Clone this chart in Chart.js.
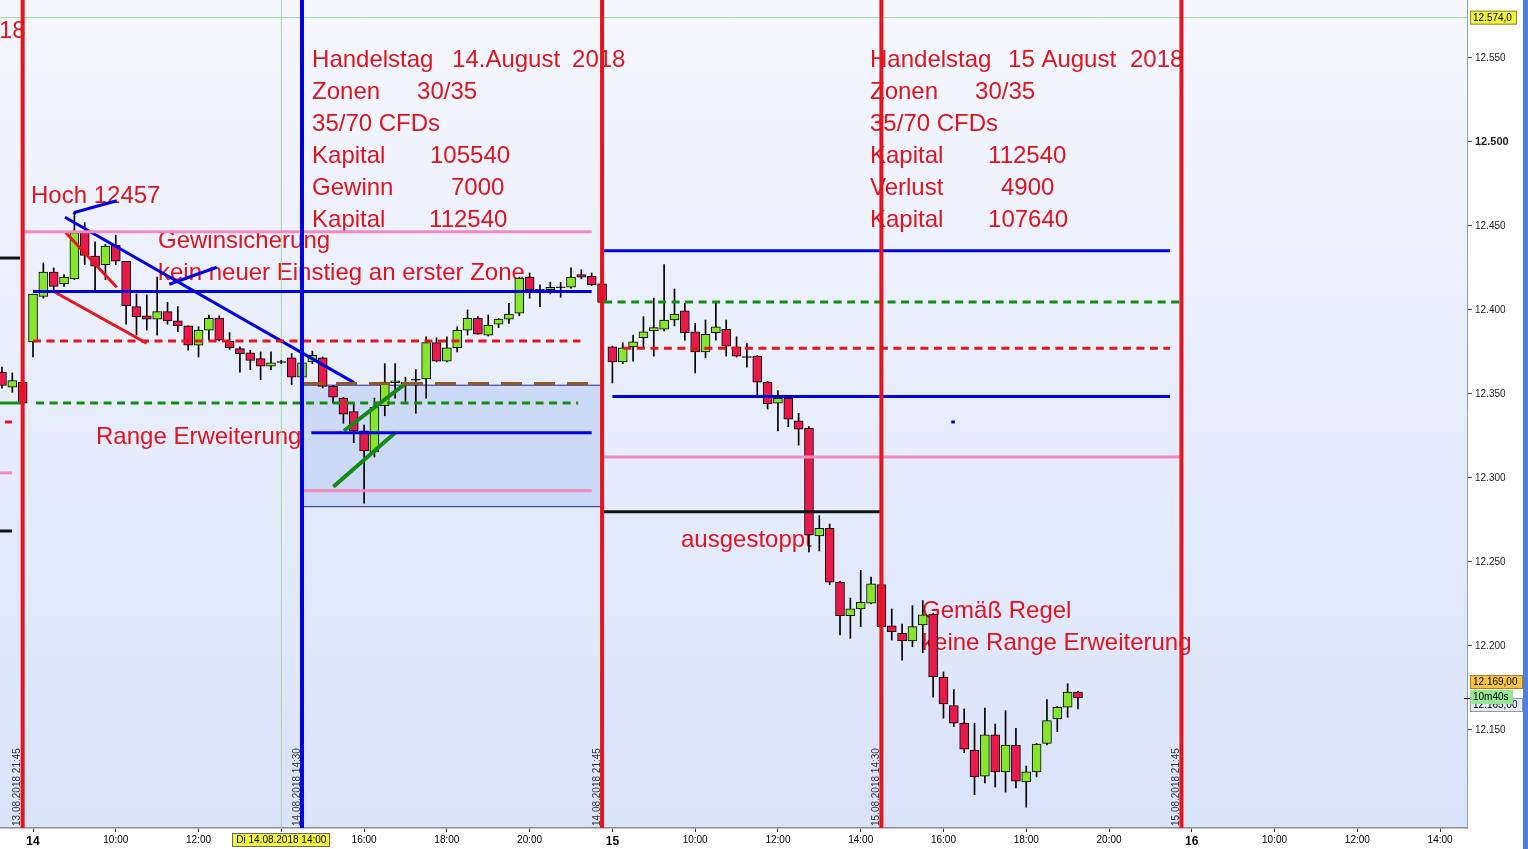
<!DOCTYPE html>
<html>
<head>
<meta charset="utf-8">
<title>DAX 15 Min - Handelstag 14./15. August 2018</title>
<script src="https://cdn.jsdelivr.net/npm/chart.js@4.4.0/dist/chart.umd.min.js"></script>
<style>
  html, body { margin: 0; padding: 0; background: #fff; overflow: hidden; }
  #wrap { width: 1528px; height: 849px; position: relative; }
</style>
</head>
<body>
<div id="wrap"><canvas id="chart"></canvas></div>
<script>
const FONT = '"Liberation Sans", Arial, sans-serif';
Chart.defaults.font.family = FONT;

// 15-Minuten-Kerzen. Index 0 = 14.08. 08:00, Index 56 = 15.08. 08:00
const firstCandle = -3;
const opens = [
  12363, 12354, 12357,
  12381, 12408, 12422.5, 12415.5, 12418.5, 12446, 12432, 12427, 12438.5, 12429,
  12402, 12396.5, 12394.5, 12399, 12393.5, 12390.5, 12379, 12388, 12395, 12381.5,
  12377, 12374.5, 12371, 12366.5, 12369, 12371.5, 12360, 12369, 12371.5, 12354.5,
  12347.5, 12339.5, 12328, 12315.5, 12343, 12357, 12356, 12358.5, 12359, 12380.5,
  12369.5, 12377.5, 12388, 12395, 12385, 12391.5, 12394.5, 12398, 12419.5, 12412,
  12412, 12413.5, 12413.5, 12421, 12420, 12415.5,
  12378, 12369, 12378, 12383.5, 12387.5, 12388.5, 12394, 12399.5, 12387, 12375,
  12386.5, 12388.5, 12378, 12372, 12372.5, 12357, 12344.5, 12347.5, 12334, 12329.5,
  12265.5, 12270, 12238, 12218, 12222, 12225.5, 12236.5, 12212, 12207.5, 12203,
  12212.5, 12219, 12181.5, 12164.5, 12154, 12138, 12122.5, 12147, 12125, 12141,
  12119, 12125, 12142, 12156.5, 12163.5, 12172.5
];
const highs = [
  12366, 12362.5, 12358,
  12409.5, 12428, 12425, 12421, 12457.5, 12452, 12440.5, 12439, 12444.5, 12429,
  12409.5, 12409, 12419.5, 12404.5, 12402, 12390.5, 12390, 12397, 12396.5, 12386.5,
  12378, 12376, 12375, 12375, 12370, 12374, 12370, 12375.5, 12372, 12355,
  12348, 12345, 12331.5, 12347.5, 12368, 12368, 12360, 12364.5, 12384, 12383.5,
  12384, 12390, 12400, 12396, 12397, 12395, 12404, 12419.5, 12422, 12415,
  12416.5, 12416.5, 12425, 12424, 12422, 12416,
  12378.5, 12380.5, 12385, 12396, 12407, 12427, 12412.5, 12404, 12392, 12394,
  12404, 12394, 12384, 12380, 12373, 12357.5, 12352, 12348, 12338.5, 12330.5,
  12277.5, 12272.5, 12238.5, 12228.5, 12245, 12241, 12237, 12222, 12213, 12224,
  12227, 12219.5, 12184.5, 12174, 12162.5, 12154, 12163, 12153.5, 12161.5, 12151,
  12128.5, 12142, 12168, 12164, 12177.5, 12173
];
const lows = [
  12353.5, 12351, 12344,
  12372, 12407, 12412, 12414, 12418, 12427, 12412, 12418, 12427, 12391.5,
  12385, 12388, 12385, 12391.5, 12387, 12376, 12372, 12382, 12381.5, 12376.5,
  12363, 12364.5, 12358.5, 12364.5, 12368, 12355.5, 12358, 12368, 12353.5, 12344.5,
  12332.5, 12321, 12285, 12312.5, 12337, 12347.5, 12345, 12338.5, 12347.5, 12369,
  12369, 12375, 12385, 12385.5, 12384.5, 12389.5, 12392, 12396.5, 12407, 12402,
  12409.5, 12407.5, 12413, 12418.5, 12414.5, 12404.5,
  12356.5, 12368, 12369.5, 12377.5, 12372.5, 12387.5, 12390.5, 12382, 12362.5, 12371.5,
  12382, 12372.5, 12372, 12366, 12349.5, 12341, 12328, 12330.5, 12319.5, 12256,
  12256.5, 12236.5, 12206.5, 12204.5, 12211.5, 12225, 12211, 12203.5, 12191.5, 12199.5,
  12196, 12169.5, 12157, 12152, 12136.5, 12111.5, 12118.5, 12116, 12113, 12115.5,
  12104, 12122, 12141, 12149, 12157.5, 12162.5
];
const closes = [
  12355, 12358, 12344.5,
  12409.5, 12422.5, 12414, 12419.5, 12446, 12432.5, 12426, 12438, 12429, 12402.5,
  12396, 12394.5, 12399, 12393.5, 12390.5, 12379, 12388, 12395, 12382, 12377.5,
  12374, 12370, 12366.5, 12368.5, 12369, 12360, 12368.5, 12373, 12354.5, 12348,
  12338, 12328, 12316, 12342, 12357, 12357.5, 12357, 12358.5, 12380.5, 12369.5,
  12377.5, 12388, 12395, 12385.5, 12391, 12394.5, 12397.5, 12419, 12412, 12412,
  12413.5, 12413.5, 12419.5, 12419.5, 12415, 12404.5,
  12369, 12377.5, 12381, 12387, 12389.5, 12394, 12397.5, 12386.5, 12375, 12385.5,
  12390, 12378.5, 12372.5, 12372, 12357, 12344, 12347.5, 12335, 12329, 12266,
  12270, 12238, 12218, 12222, 12226, 12237, 12211.5, 12208.5, 12203, 12211.5,
  12218.5, 12181.5, 12165.5, 12154, 12138.5, 12122, 12147, 12125, 12141, 12119.5,
  12125, 12141.5, 12155.5, 12163.5, 12172.5, 12169
];

// Achsen
const xMin = -3.19, xMax = 138.6;
const yMin = 12091.6, yMax = 12584.5;
const yTicks = [12150, 12200, 12250, 12300, 12350, 12400, 12450, 12500, 12550];
const xTicks = [0, 8, 16, 24, 32, 40, 48, 56, 64, 72, 80, 88, 96, 104, 112, 120, 128, 136];
const xTickLabels = ['14', '10:00', '12:00', '', '16:00', '18:00', '20:00',
  '15', '10:00', '12:00', '14:00', '16:00', '18:00', '20:00',
  '16', '10:00', '12:00', '14:00'];
const lastPrice = 12169;
const topLine = 12574;

// eingezeichnete Linien: [von, bis, Kurs]
const blueLevels = [[0, 54, 12410.9], [26.9, 54, 12326.9], [55.2, 109.9, 12435.3], [56, 109.9, 12348.4], [88.75, 89.1, 12333.3]];
const pinkLevels = [[-0.94, 54, 12446.6], [26.1, 54, 12292.4], [55.2, 110.9, 12312.5], [-3.3, -2.03, 12303]];
const blackLevels = [[-3.3, -1.26, 12430.9], [-3.3, -2.03, 12268.4], [55.2, 81.93, 12279.9]];
const redLevels = [[-2.71, -2.03, 12333.3]];
const greenLevels = [[-3.3, -1, 12344.6]];
const redDashedLevels = [[0, 52.9, 12381.5], [57.06, 109.9, 12377.2]];
const greenDashedLevels = [[0.3, 52.7, 12344.6], [55.2, 110.9, 12404.7]];
const brownDashedLevels = [[26.1, 54.9, 12356.2]];
// Trendlinien: Punktfolgen [Index, Kurs]
const blueTrends = [
  [[3.09, 12455.2], [31.03, 12356.7]],
  [[3.96, 12456.9], [4.06, 12458.1], [8.09, 12465]],
  [[13.17, 12415.3], [17.76, 12425.4]]
];
const redTrends = [
  [[3.09, 12446.6], [8.09, 12413.5]],
  [[2.13, 12410.5], [10.99, 12380.2]]
];
const greenTrends = [
  [[30.06, 12328.1], [36.12, 12356.7]],
  [[29.03, 12294.8], [35.0, 12326.9]]
];
// Range-Zone 14.08.: [von, bis, unten, oben]
const rangeZone = [26.1, 54.8, 12282.9, 12355.2];
// senkrechte Linien
const redVerticals = [-1, 55, 82, 111];
const blueVerticals = [26];
const cursorVertical = 24;
const verticalLabels = [
  [-1, '13.08.2018 21:45'], [26, '14.08.2018 14:30'], [55, '14.08.2018 21:45'],
  [82, '15.08.2018 14:30'], [111, '15.08.2018 21:45']
];
// Texte: [Text, Index, Kurs]
const notes = [
  ['18', -3.29, 12561.9],
  ['Handelstag', 26.97, 12544.6], ['14.August', 40.5, 12544.6], ['2018', 52.1, 12544.6],
  ['Zonen', 26.97, 12525.6], ['30/35', 37.12, 12525.6],
  ['35/70 CFDs', 26.97, 12506.5],
  ['Kapital', 26.97, 12487.5], ['105540', 38.37, 12487.5],
  ['Gewinn', 26.97, 12468.4], ['7000', 40.4, 12468.4],
  ['Kapital', 26.97, 12449.4], ['112540', 38.28, 12449.4],
  ['Handelstag', 80.9, 12544.6], ['15 August', 94.24, 12544.6], ['2018', 106.03, 12544.6],
  ['Zonen', 80.9, 12525.6], ['30/35', 91.05, 12525.6],
  ['35/70 CFDs', 80.9, 12506.5],
  ['Kapital', 80.9, 12487.5], ['112540', 92.31, 12487.5],
  ['Verlust', 80.9, 12468.4], ['4900', 93.56, 12468.4],
  ['Kapital', 80.9, 12449.4], ['107640', 92.31, 12449.4],
  ['Hoch 12457', -0.19, 12463.7],
  ['Gewinsicherung', 12.08, 12436.9],
  ['kein neuer Einstieg an erster Zone', 12.08, 12417.8],
  ['Range Erweiterung', 6.09, 12320.2],
  ['ausgestoppt', 62.63, 12258.9],
  ['Gemäß Regel', 85.93, 12216.6],
  ['keine Range Erweiterung', 85.93, 12197.6]
];

const UP = '#86e62c', DOWN = '#e8194b';
const BLUE = '#0000e0', RED = '#e6141c', PINK = '#f28ac2', GREEN = '#148c14',
      BROWN = '#96581c', BLACK = '#111', LIGHT_GREEN = '#9ade9a', TEXT_RED = '#e0141e';

const idx = opens.map((_, i) => firstCandle + i);
const bodyData = idx.map((k, i) => {
  let lo = Math.min(opens[i], closes[i]), hi = Math.max(opens[i], closes[i]);
  if (hi - lo < 0.6) { lo -= 0.3; hi += 0.3; }
  return { x: k, y: [lo, hi] };
});
const bodyColors = idx.map((_, i) => closes[i] > opens[i] ? UP : closes[i] < opens[i] ? DOWN : '#000');
const wickData = idx.map((k, i) => ({ x: k, y: [lows[i], highs[i]] }));

function line(points, color, width, dash, order) {
  return {
    type: 'line',
    data: points.map(([x, y]) => ({ x, y })),
    borderColor: color, borderWidth: width, borderDash: dash || [],
    borderCapStyle: 'butt', pointRadius: 0, fill: false, tension: 0,
    order: order === undefined ? 1 : order
  };
}
const levels = (list, color, width, dash) => list.map(([a, b, p]) => line([[a, p], [b, p]], color, width, dash));

const datasets = [
  { type: 'bar', data: wickData, backgroundColor: '#000', borderWidth: 0, barThickness: 1, grouped: false, order: 11 },
  { type: 'bar', data: bodyData, backgroundColor: bodyColors, borderColor: '#000', borderWidth: 1,
    borderSkipped: false, barThickness: 9, grouped: false, order: 10 },
  Object.assign(line([[rangeZone[0], rangeZone[3]], [rangeZone[1], rangeZone[3]]], '#1a2a9a', 1, [], 20),
    { fill: { value: rangeZone[2] }, backgroundColor: 'rgba(150,178,235,0.32)' }),
  line([[rangeZone[0], rangeZone[2]], [rangeZone[1], rangeZone[2]]], '#1a2a9a', 1, [], 19),
  line([[xMin, topLine], [xMax, topLine]], LIGHT_GREEN, 1, [], 15),
  line([[cursorVertical, yMin], [cursorVertical, yMax]], LIGHT_GREEN, 1, [], 15),
  ...levels(blueLevels, BLUE, 3),
  ...levels(pinkLevels, PINK, 3),
  ...levels(blackLevels, BLACK, 3),
  ...levels(redLevels, RED, 3),
  ...levels(greenLevels, GREEN, 3),
  ...levels(redDashedLevels, RED, 3, [8, 5.5]),
  ...levels(greenDashedLevels, GREEN, 3, [8, 5.5]),
  ...levels(brownDashedLevels, BROWN, 3, [21, 12]),
  ...blueTrends.map(p => line(p, BLUE, 3)),
  ...redTrends.map(p => line(p, RED, 3)),
  ...greenTrends.map(p => line(p, GREEN, 4)),
  ...redVerticals.map(k => line([[k, yMin], [k, yMax]], RED, 4, [], 0)),
  ...blueVerticals.map(k => line([[k, yMin], [k, yMax]], BLUE, 4, [], 0))
];

const backdrop = {
  id: 'backdrop',
  beforeDraw(chart) {
    const { ctx, chartArea: a, width, height } = chart;
    ctx.save();
    ctx.fillStyle = '#fff';
    ctx.fillRect(0, 0, width, height);
    const g = ctx.createLinearGradient(0, a.top, 0, a.bottom);
    g.addColorStop(0, '#f6f7fe');
    g.addColorStop(1, '#d9e3fa');
    ctx.fillStyle = g;
    ctx.fillRect(a.left, a.top, a.right - a.left, a.bottom - a.top);
    ctx.restore();
  }
};

const annotations = {
  id: 'annotations',
  beforeDatasetsDraw(chart) {
    const { ctx, chartArea: a, scales: { x, y } } = chart;
    ctx.save();
    ctx.beginPath();
    ctx.rect(a.left, a.top, a.right - a.left, a.bottom - a.top);
    ctx.clip();
    ctx.font = '24px ' + FONT;
    ctx.fillStyle = TEXT_RED;
    ctx.textBaseline = 'alphabetic';
    notes.forEach(([t, k, p]) => ctx.fillText(t, x.getPixelForValue(k), y.getPixelForValue(p)));
    ctx.restore();
  },
  afterDatasetsDraw(chart) {
    const { ctx, chartArea: a, scales: { x } } = chart;
    ctx.save();
    ctx.font = '10px ' + FONT;
    ctx.fillStyle = '#333';
    ctx.textBaseline = 'alphabetic';
    verticalLabels.forEach(([k, t]) => {
      ctx.save();
      ctx.translate(x.getPixelForValue(k) - 2.5, a.bottom - 2);
      ctx.rotate(-Math.PI / 2);
      ctx.fillText(t, 0, 0);
      ctx.restore();
    });
    ctx.restore();
  },
  afterDraw(chart) {
    const { ctx, chartArea: a, scales: { x, y }, width, height } = chart;
    const box = (x0, yc, w, fill, stroke, text) => {
      ctx.fillStyle = fill;
      ctx.fillRect(x0, yc - 7, w, 14);
      ctx.strokeStyle = stroke;
      ctx.lineWidth = 1;
      ctx.strokeRect(x0 + 0.5, yc - 6.5, w - 1, 13);
      ctx.fillStyle = '#000';
      ctx.fillText(text, x0 + 3, yc + 0.5);
    };
    ctx.save();
    ctx.font = '10px ' + FONT;
    ctx.textBaseline = 'middle';
    const yl = y.getPixelForValue(lastPrice);
    ctx.strokeStyle = '#000';
    ctx.beginPath();
    ctx.moveTo(a.right - 3, Math.round(yl) + 0.5);
    ctx.lineTo(a.right + 4, Math.round(yl) + 0.5);
    ctx.stroke();
    box(a.right + 3, y.getPixelForValue(topLine), 47, '#f2f23c', '#8a8a30', '12.574,0');
    box(a.right + 3, yl + 7, 53, '#e6eaf2', '#8c96a8', '12.165,00');
    box(a.right + 3, yl - 16, 53, '#f5c443', '#b0801e', '12.169,00');
    box(a.right + 3, yl - 1, 43, '#96e696', '#96e696', '10m40s');
    // Datums-Cursor auf der Zeitachse
    const xc = x.getPixelForValue(cursorVertical);
    const label = 'Di 14.08.2018 14:00';
    const w = ctx.measureText(label).width + 8;
    ctx.fillStyle = '#f4f43c';
    ctx.fillRect(xc - w / 2, a.bottom + 5, w, 14);
    ctx.strokeStyle = '#666';
    ctx.strokeRect(Math.round(xc - w / 2) + 0.5, a.bottom + 5.5, Math.round(w) - 1, 13);
    ctx.fillStyle = '#000';
    ctx.textAlign = 'center';
    ctx.fillText(label, xc, a.bottom + 12.5);
    // Fensterrand rechts
    ctx.fillStyle = '#4f7fdc';
    ctx.fillRect(width - 5, 0, 5, height);
    ctx.restore();
  }
};

const noPad = (s) => { s.paddingTop = 0; s.paddingBottom = 0; s.paddingLeft = 0; s.paddingRight = 0; };

new Chart(document.getElementById('chart'), {
  type: 'bar',
  data: { datasets },
  options: {
    responsive: true,
    maintainAspectRatio: false,
    animation: false,
    layout: { padding: 0 },
    plugins: { legend: { display: false }, tooltip: { enabled: false } },
    scales: {
      x: {
        type: 'linear', min: xMin, max: xMax, offset: false,
        afterBuildTicks: (s) => { s.ticks = xTicks.map(v => ({ value: v })); },
        afterFit: (s) => { s.height = 21; noPad(s); },
        grid: { drawOnChartArea: false, drawTicks: true, tickLength: 4, tickColor: '#333', offset: false },
        border: { display: true, color: '#8a8a8a', width: 1.5 },
        ticks: {
          autoSkip: false, maxRotation: 0, padding: 2, color: '#000',
          callback: (v, i) => xTickLabels[i],
          font: (c) => (c.index % 7 === 0 ? { size: 12, weight: 'bold' } : { size: 10 })
        }
      },
      y: {
        type: 'linear', position: 'right', min: yMin, max: yMax,
        afterBuildTicks: (s) => { s.ticks = yTicks.map(v => ({ value: v })); },
        afterFit: (s) => { s.width = 61; noPad(s); },
        grid: { drawOnChartArea: false, drawTicks: true, tickLength: 5, tickColor: '#444' },
        border: { display: true, color: '#8aa0c0', width: 1 },
        ticks: {
          padding: 3, color: '#222',
          callback: (v) => (v / 1000).toFixed(3),
          font: (c) => (c.tick && c.tick.value === 12500 ? { size: 11, weight: 'bold' } : { size: 10 })
        }
      }
    }
  },
  plugins: [backdrop, annotations]
});
</script>
</body>
</html>
